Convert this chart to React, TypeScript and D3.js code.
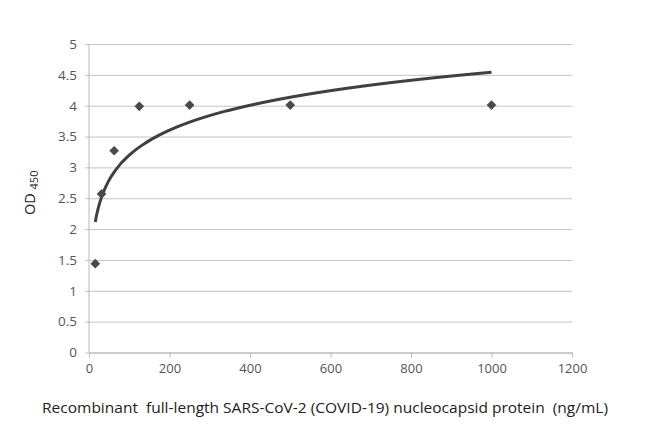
import { useEffect, useRef } from "react"
import * as d3 from "d3"

const concentrations = [15.625, 31.25, 62.5, 125, 250, 500, 1000]
const odValues = [1.44, 2.57, 3.27, 3.99, 4.01, 4.01, 4.01]
const xTicks = [0, 200, 400, 600, 800, 1000, 1200]
const yTicks = [0, 0.5, 1, 1.5, 2, 2.5, 3, 3.5, 4, 4.5, 5]
const xTitle = "Recombinant  full-length SARS-CoV-2 (COVID-19) nucleocapsid protein  (ng/mL)"

export default function App() {
  const ref = useRef<SVGSVGElement>(null)

  useEffect(() => {
    if (!ref.current) return
    const el = ref.current
    d3.select(el).selectAll("*").remove()

    const W = 650
    const H = 427
    const margin = { top: 44, right: 78, bottom: 74.5, left: 89 }
    const iW = W - margin.left - margin.right
    const iH = H - margin.top - margin.bottom
    const font = "'Open Sans', sans-serif"

    const svg = d3
      .select(el)
      .attr("width", W)
      .attr("height", H)
      .style("display", "block")
      .style("position", "absolute")
      .style("left", "0px")
      .style("top", "0px")
    svg.append("rect").attr("width", W).attr("height", H).attr("fill", "#fff")

    const g = svg.append("g").attr("transform", `translate(${margin.left},${margin.top})`)

    const x = d3.scaleLinear().domain([0, 1200]).range([0, iW])
    const y = d3.scaleLinear().domain([0, 5]).range([iH, 0])

    // gridlines + y axis
    g.append("g")
      .call(d3.axisLeft(y).tickValues(yTicks).tickSize(-iW).tickSizeOuter(0).tickPadding(12).tickFormat((d) => String(d)))
      .call((ax) => ax.select(".domain").remove())
      .call((ax) => ax.selectAll(".tick line").attr("stroke", "#c4c4c4").attr("x1", -4))
      .call((ax) => ax.selectAll(".tick text").attr("fill", "#555").attr("font-size", 13.5).attr("font-family", font))

    g.append("line").attr("x1", 0).attr("x2", 0).attr("y1", 0).attr("y2", iH).attr("stroke", "#b8b8b8")

    // x axis
    g.append("g")
      .attr("transform", `translate(0,${iH})`)
      .call(d3.axisBottom(x).tickValues(xTicks).tickSize(5).tickSizeOuter(0).tickPadding(6).tickFormat((d) => String(d)))
      .call((ax) => ax.select(".domain").attr("stroke", "#b8b8b8"))
      .call((ax) => ax.selectAll(".tick line").attr("stroke", "#b8b8b8"))
      .call((ax) => ax.selectAll(".tick text").attr("fill", "#555").attr("font-size", 13).attr("font-family", font))

    // logarithmic trendline fitted to the points
    const lx = concentrations.map(Math.log)
    const mx = d3.mean(lx) as number
    const my = d3.mean(odValues) as number
    let sxy = 0
    let sxx = 0
    lx.forEach((v, i) => {
      sxy += (v - mx) * (odValues[i] - my)
      sxx += (v - mx) * (v - mx)
    })
    const a = sxy / sxx
    const b = my - a * mx
    const xMin = concentrations[0]
    const xMax = concentrations[concentrations.length - 1]
    const trend = d3.range(0, 201).map((i) => {
      const c = Math.exp(Math.log(xMin) + (i / 200) * (Math.log(xMax) - Math.log(xMin)))
      return [c, a * Math.log(c) + b] as [number, number]
    })

    g.append("path")
      .datum(trend)
      .attr("fill", "none")
      .attr("stroke", "#404040")
      .attr("stroke-width", 3)
      .attr("d", d3.line<[number, number]>().x((d) => x(d[0])).y((d) => y(d[1])))

    // diamond markers
    const diamond = d3.symbol().type(d3.symbolDiamond2).size(60)
    g.selectAll(".pt")
      .data(concentrations)
      .join("path")
      .attr("class", "pt")
      .attr("transform", (d, i) => `translate(${x(d)},${y(odValues[i])})`)
      .attr("d", diamond)
      .attr("fill", "#4a4a4a")

    // x title
    svg.append("text")
      .attr("x", 42)
      .attr("y", 413)
      .attr("fill", "#222")
      .attr("font-size", 14)
      .attr("font-family", font)
      .style("white-space", "pre")
      .attr("textLength", 566)
      .attr("lengthAdjust", "spacingAndGlyphs")
      .text(xTitle)

    // y title
    const yt = svg.append("text")
      .attr("transform", "translate(35,215) rotate(-90)")
      .attr("fill", "#222")
      .attr("font-size", 14.5)
      .attr("font-family", font)
    yt.append("tspan").text("OD ")
    yt.append("tspan").attr("font-size", 11).attr("dy", 3).text("450")
  }, [])

  return <svg ref={ref} />
}
